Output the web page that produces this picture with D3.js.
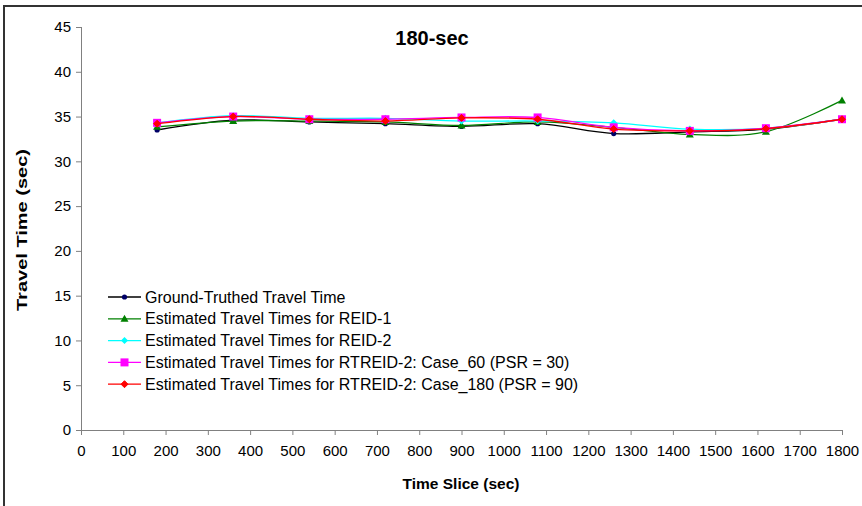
<!DOCTYPE html>
<html><head><meta charset="utf-8">
<script src="https://cdn.jsdelivr.net/npm/d3@7"></script>
<style>body{margin:0;background:#fff}svg{display:block;font-family:Arial,"Liberation Sans",sans-serif}</style>
</head><body><svg id="c" width="862" height="506"></svg>
<script>
const timeSlices = [180,360,540,720,900,1080,1260,1440,1620,1800];
const groundTruth = [33.5,34.6,34.4,34.2,33.9,34.2,33.1,33.3,33.6,34.7];
const reid1 = [33.85,34.5,34.5,34.4,34.0,34.4,33.8,33.0,33.3,36.8];
const reid2 = [34.3,35.1,34.8,34.8,34.5,34.5,34.3,33.6,33.7,34.7];
const case60 = [34.3,35.0,34.7,34.7,34.9,34.9,33.8,33.4,33.7,34.7];
const case180 = [34.2,35.0,34.7,34.5,34.85,34.7,33.6,33.4,33.65,34.7];
const xTicks = d3.range(0,1801,100);
const yTicks = d3.range(0,46,5);
const seriesNames = ["Ground-Truthed Travel Time","Estimated Travel Times for REID-1","Estimated Travel Times for REID-2","Estimated Travel Times for RTREID-2: Case_60 (PSR = 30)","Estimated Travel Times for RTREID-2: Case_180 (PSR = 90)"];

const series = [
  {name:seriesNames[0], values:groundTruth, color:"#000000", mcolor:"#000066", marker:"circle"},
  {name:seriesNames[1], values:reid1, color:"#008000", mcolor:"#008000", marker:"triangle"},
  {name:seriesNames[2], values:reid2, color:"#00ffff", mcolor:"#00ffff", marker:"diamond"},
  {name:seriesNames[3], values:case60, color:"#ff00ff", mcolor:"#ff00ff", marker:"square"},
  {name:seriesNames[4], values:case180, color:"#ff0000", mcolor:"#ff0000", marker:"reddiamond"}
];

const svg = d3.select("#c");
svg.append("path").attr("d","M4,520V6H870").attr("fill","none").attr("stroke","#333").attr("stroke-width",2);

const x = d3.scaleLinear().domain([0,1800]).range([81,842]);
const y = d3.scaleLinear().domain([0,45]).range([430,27]);

const yAxis = svg.append("g").attr("transform","translate(81,0)")
  .call(d3.axisLeft(y).tickValues(yTicks).tickSize(5).tickPadding(5).tickFormat(d3.format("d")));
const xAxis = svg.append("g").attr("transform","translate(0,430)")
  .call(d3.axisBottom(x).tickValues(xTicks).tickSize(5).tickPadding(10).tickFormat(d3.format("d")));
[yAxis,xAxis].forEach(a=>{
  a.selectAll("path,line").attr("stroke","#808080");
  a.selectAll("text").attr("font-size","15px").attr("fill","#000").attr("font-family","Arial, 'Liberation Sans', sans-serif");
});
xAxis.select(".domain").attr("d","M81,0.5H842.5");
yAxis.select(".domain").attr("d","M0.5,27V430");

svg.append("text").attr("x",432).attr("y",45).attr("text-anchor","middle")
  .attr("font-weight","bold").attr("font-size","20px").text("180-sec");
svg.append("text").attr("x",461).attr("y",489).attr("text-anchor","middle")
  .attr("font-weight","bold").attr("font-size","15.5px").text("Time Slice (sec)");
svg.append("text").attr("transform","translate(27,230) rotate(-90)").attr("text-anchor","middle")
  .attr("font-weight","bold").attr("font-size","14.5px")
  .attr("textLength",162).attr("lengthAdjust","spacingAndGlyphs").text("Travel Time (sec)");

const line = d3.line().x(d=>x(d[0])).y(d=>y(d[1])).curve(d3.curveCardinal.tension(0));

function drawMarker(g, type, cx, cy, color){
  if(type==="circle") g.append("circle").attr("cx",cx).attr("cy",cy).attr("r",2.6).attr("fill",color);
  else if(type==="triangle") g.append("path").attr("d",`M${cx},${cy-4}L${cx+4},${cy+3}L${cx-4},${cy+3}Z`).attr("fill",color);
  else if(type==="diamond") g.append("path").attr("d",`M${cx},${cy-3.5}L${cx+3.5},${cy}L${cx},${cy+3.5}L${cx-3.5},${cy}Z`).attr("fill",color);
  else if(type==="square") g.append("rect").attr("x",cx-4).attr("y",cy-4).attr("width",8).attr("height",8).attr("fill",color);
  else if(type==="reddiamond") g.append("path").attr("d",`M${cx},${cy-3.5}L${cx+3.5},${cy}L${cx},${cy+3.5}L${cx-3.5},${cy}Z`).attr("fill",color).attr("stroke",color).attr("stroke-width",1);
}

series.forEach(s=>{
  const pts = timeSlices.map((t,i)=>[t,s.values[i]]);
  const g = svg.append("g");
  g.append("path").attr("d",line(pts)).attr("fill","none").attr("stroke",s.color).attr("stroke-width",1.3);
  pts.forEach(p=>drawMarker(g,s.marker,x(p[0]),y(p[1]),s.mcolor));
});

const legend = svg.append("g");
series.forEach((s,i)=>{
  const ly = 297 + i*21.8;
  legend.append("line").attr("x1",108).attr("x2",141).attr("y1",ly).attr("y2",ly).attr("stroke",s.color).attr("stroke-width",1.3);
  drawMarker(legend,s.marker,124.5,ly,s.mcolor);
  legend.append("text").attr("x",145).attr("y",ly+5.5).attr("font-size","16px").text(s.name);
});
</script></body></html>
